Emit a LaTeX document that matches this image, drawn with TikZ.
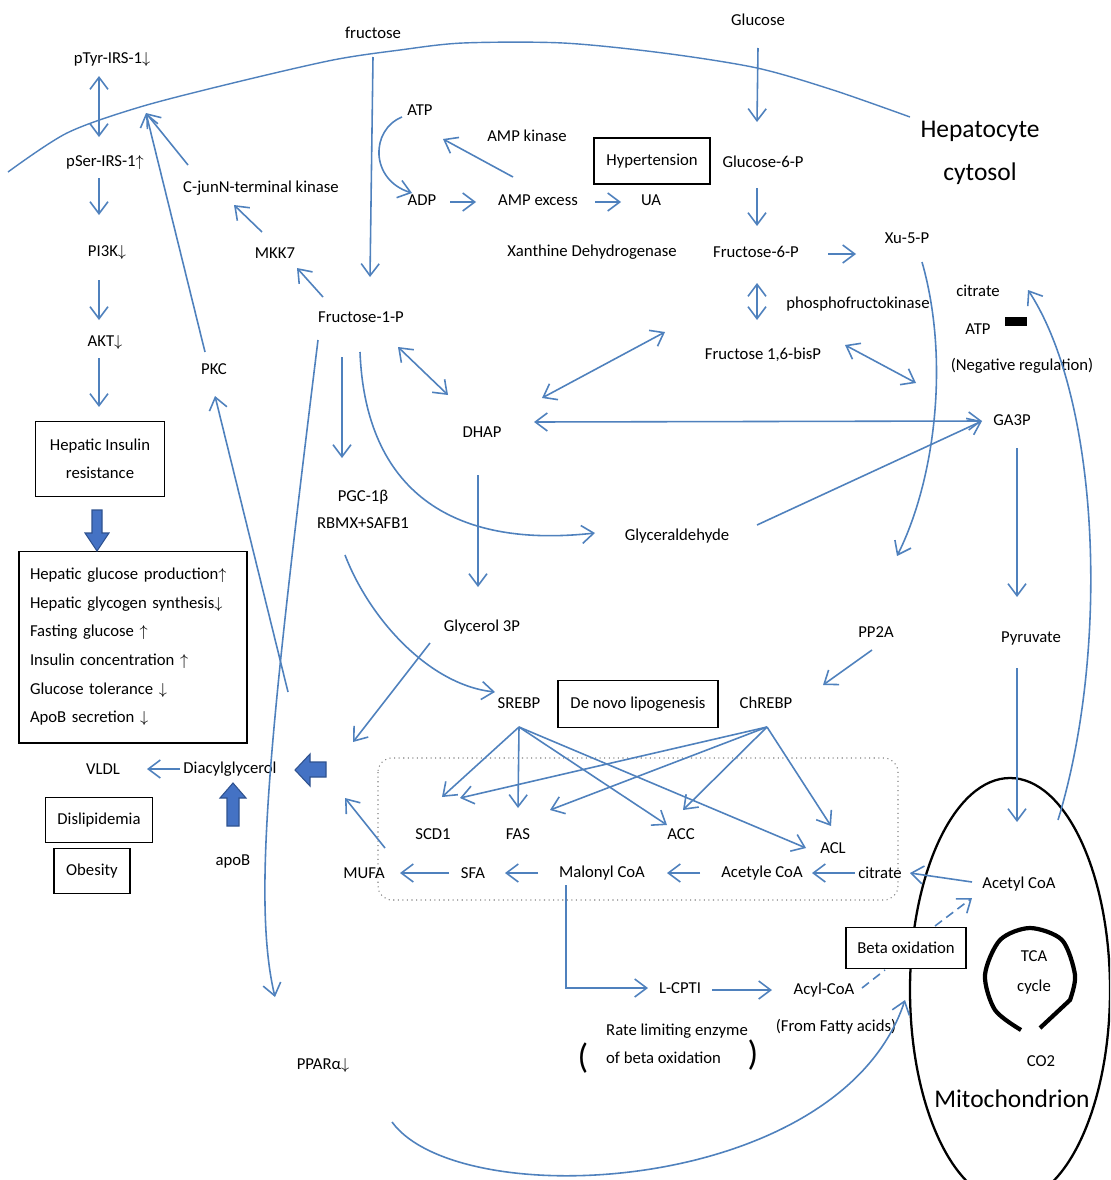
\documentclass[tikz,border=0pt]{standalone}
\usepackage{fontspec}
\setmainfont{Carlito}
\usetikzlibrary{arrows.meta,calc}
\definecolor{lineblue}{RGB}{79,129,189}
\definecolor{fatblue}{RGB}{68,114,196}
\definecolor{fatedge}{RGB}{47,82,143}
\newcommand\fs{\fontsize{9.5}{11.4}\selectfont}
\begin{document}
\begin{tikzpicture}[x=0.02cm,y=-0.02cm,
  lbl/.style={font=\fs, inner sep=1pt},
  boxn/.style={draw, fill=white, line width=0.6pt, inner sep=0pt, font=\fs},
  arr/.style={draw=lineblue, line width=0.9pt, -{Straight Barb[length=2.4mm,width=3.6mm]}},
  darr/.style={draw=lineblue, line width=0.9pt, {Straight Barb[length=2.4mm,width=3.6mm]}-{Straight Barb[length=2.4mm,width=3.6mm]}},
  ln/.style={draw=lineblue, line width=0.9pt},
  dsh/.style={draw=lineblue, line width=0.9pt, dash pattern=on 5pt off 3pt},
  fat/.style={fill=fatblue, draw=fatedge, line width=0.6pt}]
\clip (0,0) rectangle (1110,1180);
\fill[white] (0,0) rectangle (1110,1180);

% membrane
\draw[lineblue, line width=0.8pt] plot[smooth] coordinates {(8,172) (67,133) (140,107) (233,83) (333,60) (400,50) (463,43) (563,43) (663,53) (757,68) (833,90) (910,117)};

% mitochondrion
\draw[line width=1.3pt] (1010,990) ellipse [x radius=100, y radius=212];
\draw[line width=2.4pt] plot[smooth] coordinates {(1021,1030) (995,1010) (985,975) (1000,940) (1030,928) (1062,940) (1075,975) (1070,1000)} -- (1040,1028);

% negative regulation bar
\fill (1005,317) rectangle (1027,326);

% dotted lipogenesis box
\draw[gray, line width=0.6pt, dotted, rounded corners=8pt] (378,758) rectangle (898,900);

% labels
\node[lbl] (fructose) at (373,33) {fructose};
\node[lbl] (glucose) at (758,20) {Glucose};
\node[lbl] (pTyr) at (112,60) {pTyr-IRS-1$\downarrow$};
\node[lbl] (pSer) at (105,163) {pSer-IRS-1$\uparrow$};
\node[lbl] (pi3k) at (107,253) {PI3K$\downarrow$};
\node[lbl] (akt) at (105,343) {AKT$\downarrow$};
\node[boxn, minimum width=2.58cm, minimum height=1.5cm, align=center, font=\fontsize{9.5}{15.9}\selectfont] (hir) at (100,459) {Hepatic Insulin\\resistance};
\node[boxn, text width=4.12cm, inner xsep=0.22cm, minimum height=3.84cm, align=left, font=\fontsize{9.5}{16.3}\selectfont] (eff) at (133,647) {Hepatic glucose production$\uparrow$\\Hepatic glycogen synthesis$\downarrow$\\Fasting glucose $\uparrow$\\Insulin concentration $\uparrow$\\Glucose tolerance $\downarrow$\\ApoB secretion $\downarrow$};
\node[lbl] (cjnk) at (261,188) {C-junN-terminal kinase};
\node[lbl] (mkk7) at (275,253) {MKK7};
\node[lbl] (pkc) at (214,369) {PKC};
\node[lbl] (atp) at (420,110) {ATP};
\node[lbl] (adp) at (422,200) {ADP};
\node[lbl] (ampk) at (527,136) {AMP kinase};
\node[lbl] (ampx) at (538,200) {AMP excess};
\node[lbl] (ua) at (651,200) {UA};
\node[boxn, minimum width=2.32cm, minimum height=0.92cm] (hyp) at (652,161) {Hypertension};
\node[lbl] (xdh) at (592,252) {Xanthine Dehydrogenase};
\node[lbl] (g6p) at (763,162) {Glucose-6-P};
\node[lbl] (f6p) at (756,252) {Fructose-6-P};
\node[lbl] (xu5p) at (907,238) {Xu-5-P};
\node[lbl] (pfk) at (858,304) {phosphofructokinase};
\node[lbl] (f16) at (763,355) {Fructose 1,6-bisP};
\node[lbl] (citR) at (978,291) {citrate};
\node[lbl] (atpR) at (978,329) {ATP};
\node[lbl] (neg) at (1022,366) {(Negative regulation)};
\node[lbl, align=center, font=\fontsize{14.5}{24.4}\selectfont] (hep) at (980,153) {Hepatocyte\\cytosol};
\node[lbl] (f1p) at (361,317) {Fructose-1-P};
\node[lbl] (dhap) at (482,432) {DHAP};
\node[lbl] (ga3p) at (1012,420) {GA3P};
\node[lbl, align=center, font=\fontsize{9.5}{15.3}\selectfont] (pgc) at (363,509) {PGC-1β\\RBMX+SAFB1};
\node[lbl] (glyald) at (677,536) {Glyceraldehyde};
\node[lbl] (gly3p) at (482,627) {Glycerol 3P};
\node[lbl] (pp2a) at (876,632) {PP2A};
\node[lbl] (pyr) at (1031,638) {Pyruvate};
\node[lbl] (srebp) at (519,703) {SREBP};
\node[boxn, minimum width=3.2cm, minimum height=0.94cm] (dnl) at (638,704) {De novo lipogenesis};
\node[lbl] (chrebp) at (766,703) {ChREBP};
\node[lbl] (vldl) at (103,769) {VLDL};
\node[lbl] (dag) at (230,769) {Diacylglycerol};
\node[lbl] (apob) at (233,861) {apoB};
\node[boxn, minimum width=2.14cm, minimum height=0.9cm] (dys) at (99,820) {Dislipidemia};
\node[boxn, minimum width=1.52cm, minimum height=0.9cm] (obe) at (92,871) {Obesity};
\node[lbl] (scd1) at (433,834) {SCD1};
\node[lbl] (fas) at (518,834) {FAS};
\node[lbl] (acc) at (681,834) {ACC};
\node[lbl] (acl) at (833,848) {ACL};
\node[lbl] (mufa) at (364,873) {MUFA};
\node[lbl] (sfa) at (473,873) {SFA};
\node[lbl] (mal) at (602,873) {Malonyl CoA};
\node[lbl] (acet) at (762,873) {Acetyle CoA};
\node[lbl] (cit) at (880,873) {citrate};
\node[lbl] (acoa) at (1019,884) {Acetyl CoA};
\node[boxn, minimum width=2.4cm, minimum height=0.82cm] (beta) at (906,948) {Beta oxidation};
\node[lbl, align=center, font=\fontsize{9.5}{17}\selectfont] (tca) at (1034,972) {TCA\\cycle};
\node[lbl] (co2) at (1041,1061) {CO2};
\node[lbl, font=\fontsize{14.5}{17}\selectfont] (mito) at (1012,1099) {Mitochondrion};
\node[lbl] (lcpt) at (680,988) {L-CPTI};
\node[lbl] (acyl) at (824,990) {Acyl-CoA};
\node[lbl] (ffa) at (836,1027) {(From Fatty acids)};
\node[lbl, align=left, font=\fontsize{9.5}{15.9}\selectfont] (rle) at (677,1044) {Rate limiting enzyme\\of beta oxidation};
\node[lbl, font=\fontsize{20}{20}\selectfont] (lpar) at (583,1058) {(};
\node[lbl, font=\fontsize{20}{20}\selectfont] (rpar) at (753,1055) {)};
\node[lbl] (ppara) at (323,1066) {PPARα$\downarrow$};

\coordinate (irs) at (146,113);
\coordinate (dagin) at (340,770);

% connectors
\draw[arr] ($(fructose)+(0,24)$) -- ($(f1p)+(9,-40)$);
\draw[arr] ($(glucose)+(0,28)$) -- ($(g6p)+(-6,-40)$);
\draw[arr] ($(g6p)+(-6,26)$) -- ($(f6p)+(1,-26)$);
\draw[darr] ($(f6p)+(1,31)$) -- ($(f16)+(-6,-35)$);
\draw[arr] ($(f6p)+(72,2)$) -- ($(xu5p)+(-51,16)$);
\draw[arr] ($(xu5p)+(15,24)$) .. controls (950,360) and (935,480) .. ($(pp2a)+(21,-76)$);
\draw[arr] ($(f1p)+(-38,-20)$) -- ($(mkk7)+(22,15)$);
\draw[arr] ($(mkk7)+(-13,-21)$) -- ($(cjnk)+(-27,17)$);
\draw[arr] ($(cjnk)+(-73,-23)$) -- (irs);
\draw[arr] ($(pkc)+(-9,-17)$) -- (irs);
\draw[darr] ($(pTyr)+(-13,16)$) -- ($(pSer)+(-6,-26)$);
\draw[arr] ($(pSer)+(-6,15)$) -- ($(pi3k)+(-8,-38)$);
\draw[arr] ($(pi3k)+(-8,27)$) -- ($(akt)+(-6,-23)$);
\draw[arr] ($(akt)+(-6,15)$) -- ($(hir.north)+(-1,-14)$);
\draw[arr] ($(dag)+(58,-77)$) -- ($(pkc)+(1,27)$);
\draw[arr] ($(f1p)+(-43,23)$) .. controls (270,730) and (252,900) .. ($(ppara)+(-48,-69)$);
\draw[arr] ($(f1p)+(-19,40)$) -- ($(pgc)+(-21,-51)$);
\draw[arr] ($(f1p)+(-1,35)$) .. controls (365,480) and (440,550) .. ($(glyald)+(-82,-3)$);
\draw[darr] ($(f1p)+(37,30)$) -- ($(dhap)+(-34,-37)$);
\draw[darr] ($(dhap)+(60,-34)$) -- ($(f16)+(-98,-23)$);
\draw[darr] ($(f16)+(82,-10)$) -- ($(ga3p)+(-96,-37)$);
\draw[darr] ($(dhap)+(52,-10)$) -- ($(ga3p)+(-30,1)$);
\draw[arr] ($(glyald)+(80,-11)$) -- ($(ga3p)+(-30,1)$);
\draw[arr] ($(dhap)+(-4,43)$) -- ($(gly3p)+(-4,-40)$);
\draw[arr] ($(ga3p)+(5,28)$) -- ($(pyr)+(-14,-41)$);
\draw[arr] ($(pyr)+(-14,30)$) -- ($(acoa)+(-2,-62)$);
\draw[arr] ($(acoa)+(39,-64)$) .. controls (1110,650) and (1100,400) .. ($(citR)+(50,-1)$);
\draw[arr] ($(pp2a)+(-4,18)$) -- ($(chrebp)+(57,-18)$);
\draw[arr] ($(pgc)+(-18,46)$) .. controls (370,620) and (430,685) .. ($(srebp)+(-24,-11)$);
\draw[arr] ($(gly3p)+(-52,16)$) -- ($(dagin)+(13,-28)$);
\draw[arr] ($(mufa)+(21,-25)$) -- ($(dagin)+(5,28)$);
\draw[arr] ($(dag)+(-50,0)$) -- ($(vldl)+(44,0)$);
\draw[arr] ($(srebp)+(0,24)$) -- ($(scd1)+(9,-37)$);
\draw[arr] ($(srebp)+(0,24)$) -- ($(fas)+(0,-26)$);
\draw[arr] ($(srebp)+(0,24)$) -- ($(acc)+(-14,-9)$);
\draw[arr] ($(srebp)+(0,24)$) -- ($(acl)+(-27,0)$);
\draw[arr] ($(chrebp)+(1,24)$) -- ($(scd1)+(27,-36)$);
\draw[arr] ($(chrebp)+(1,24)$) -- ($(fas)+(32,-24)$);
\draw[arr] ($(chrebp)+(1,24)$) -- ($(acc)+(2,-24)$);
\draw[arr] ($(chrebp)+(1,24)$) -- ($(acl)+(-2,-22)$);
\draw[arr] ($(cit)+(-25,0)$) -- ($(acet)+(50,0)$);
\draw[arr] ($(acet)+(-62,0)$) -- ($(mal)+(65,0)$);
\draw[arr] ($(mal)+(-64,0)$) -- ($(sfa)+(32,0)$);
\draw[arr] ($(sfa)+(-24,0)$) -- ($(mufa)+(36,0)$);
\draw[arr] ($(acoa)+(-47,-2)$) -- ($(cit)+(30,0)$);
\draw[arr] ($(mal)+(-36,12)$) |- ($(lcpt)+(-32,0)$);
\draw[arr] ($(lcpt)+(32,2)$) -- ($(acyl)+(-52,0)$);
\draw[dsh] ($(acyl)+(38,-2)$) -- ($(beta)+(-21,22)$);
\draw[dsh, -{Straight Barb[length=2.4mm,width=3.6mm]}] ($(beta)+(29,-22)$) -- ($(acoa)+(-47,14)$);
\draw[arr] ($(ppara)+(69,56)$) .. controls (460,1215) and (840,1195) .. ($(beta)+(-1,52)$);
\draw[arr] ($(atp)+(-18,7)$) .. controls (370,130) and (370,180) .. ($(adp)+(-10,-7)$);
\draw[arr] ($(adp)+(28,2)$) -- ($(ampx)+(-62,2)$);
\draw[arr] ($(ampx)+(57,2)$) -- ($(ua)+(-30,2)$);
\draw[arr] ($(ampx)+(-25,-23)$) -- ($(atp)+(23,29)$);

% fat arrows
\draw[fat] (92,510) -- (102,510) -- (102,533) -- (109,533) -- (97,551) -- (85,533) -- (92,533) -- cycle;
\draw[fat] (326,762) -- (326,777) -- (310,777) -- (310,786) -- (295,770) -- (310,754) -- (310,762) -- cycle;
\draw[fat] (227,826) -- (239,826) -- (239,798) -- (246,798) -- (233,783) -- (220,798) -- (227,798) -- cycle;
\end{tikzpicture}
\end{document}
